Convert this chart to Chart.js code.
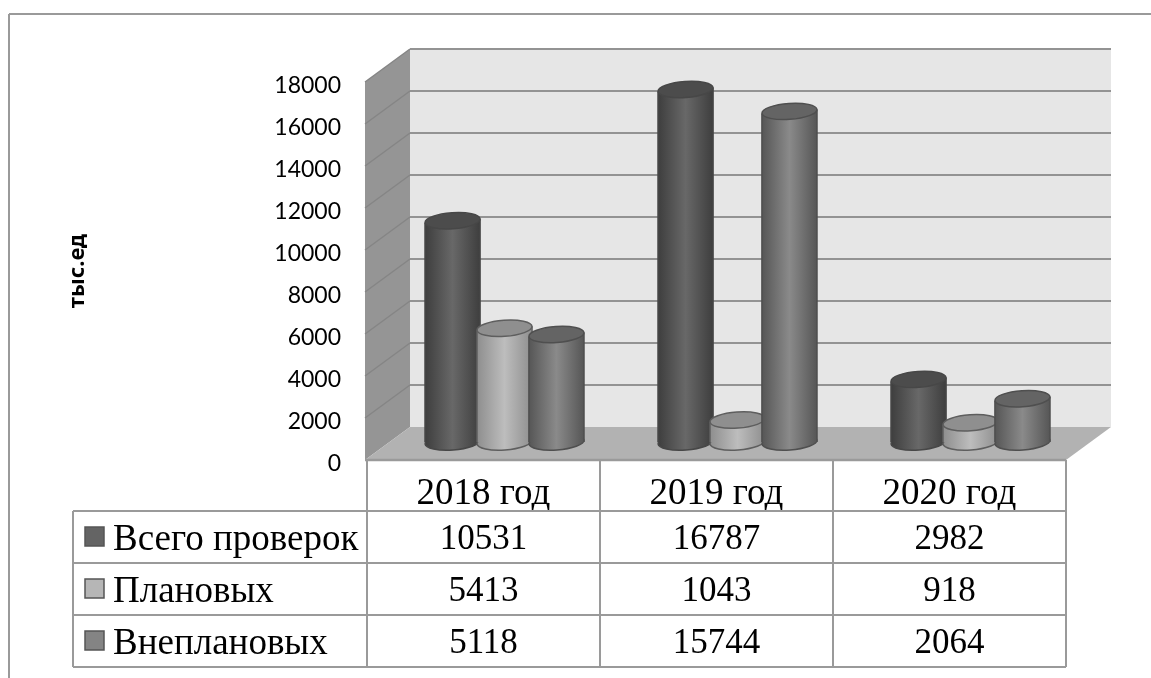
<!DOCTYPE html>
<html><head><meta charset="utf-8">
<style>html,body{margin:0;padding:0;background:#fff}#w{position:relative;width:1151px;height:678px}</style>
<script src="https://cdn.jsdelivr.net/npm/chart.js@4/dist/chart.umd.min.js"></script>
</head><body><div id="w"><canvas id="c" width="1151" height="678"></canvas></div>
<script>
const categories = ['2018 год','2019 год','2020 год'];
const seriesNames = ['Всего проверок','Плановых','Внеплановых'];
const totalChecks = [10531,16787,2982];
const plannedChecks = [5413,1043,918];
const unplannedChecks = [5118,15744,2064];
const axisTitle = 'тыс.ед';
const yTicks = [0,2000,4000,6000,8000,10000,12000,14000,16000,18000];

const seriesValues = [totalChecks, plannedChecks, unplannedChecks];
const edge = ['#3e3e3e','#8e8e8e','#565656'];
const mid = ['#686868','#bdbdbd','#8a8a8a'];
const caps = ['#4c4c4c','#8f8f8f','#646464'];
const lines = ['#474747','#5e5e5e','#4f4f4f'];
const keys = ['#646464','#b6b6b6','#848484'];
const GRID = '#939393', TBL = '#9a9a9a';
const DX = 43, DXR = 45, DY = 33, BX = 21, BY = 18;

function poly(ctx, pts, fill){ctx.beginPath();pts.forEach((p,i)=>i?ctx.lineTo(p[0],p[1]):ctx.moveTo(p[0],p[1]));ctx.closePath();ctx.fillStyle=fill;ctx.fill();}
function seg(ctx,x1,y1,x2,y2,c,w){ctx.beginPath();ctx.moveTo(x1,y1);ctx.lineTo(x2,y2);ctx.strokeStyle=c;ctx.lineWidth=w;ctx.stroke();}

const scene = {
  id:'scene',
  beforeDatasetsDraw(chart){
    const {ctx,chartArea:a,scales:{y}}=chart;
    const l=a.left,r=a.right,b=a.bottom,t=a.top;
    ctx.save();
    seg(ctx,9,14,1151,14,TBL,2); seg(ctx,9,14,9,678,TBL,2);
    poly(ctx,[[l+DX,t-DY],[r+DXR,t-DY],[r+DXR,b-DY],[l+DX,b-DY]],'#e6e6e6');
    poly(ctx,[[l-2,t],[l+DX,t-DY],[l+DX,b-DY],[l-2,b]],'#959595');
    poly(ctx,[[l-2,b],[l+DX,b-DY],[r+DXR,b-DY],[r,b]],'#b2b2b2');
    yTicks.forEach(v=>{const p=y.getPixelForValue(v);
      if(v>0) seg(ctx,l-2,p,l+DX,p-DY,'#858585',1.5);
      if(v>0) seg(ctx,l+DX,p-DY,r+DXR,p-DY,GRID,2);
    });
    const rows=[511,563,615,667], cols=[a.left,(2*a.left+a.right)/3,(a.left+2*a.right)/3,a.right];
    seg(ctx,l-2,b,r,b,TBL,2.5);
    rows.forEach(ry=>seg(ctx,73,ry,r,ry,TBL,2));
    seg(ctx,73,511,73,667,TBL,2);
    cols.forEach(x=>seg(ctx,x,b,x,667,TBL,2));
    ctx.textBaseline='middle';
    seriesNames.forEach((n,i)=>{
      const cy=(rows[i]+rows[i+1])/2;
      ctx.fillStyle=keys[i];ctx.fillRect(85,cy-10,19,19);
      ctx.strokeStyle='#555';ctx.lineWidth=1.5;ctx.strokeRect(85,cy-10,19,19);
      ctx.fillStyle='#000';ctx.textAlign='left';
      ctx.font='37px "Liberation Serif"';ctx.fillText(n,113,cy+3);
      ctx.textAlign='center';ctx.font='35px "Liberation Serif"';
      seriesValues[i].forEach((v,j)=>ctx.fillText(String(v),chart.scales.x.getPixelForValue(j),cy+3));
    });
    ctx.restore();
  },
  beforeDatasetDraw(){ return false; },
  afterDatasetsDraw(chart){
    const {ctx}=chart;
    ctx.save();ctx.translate(BX,-BY);
    [0,1,2].forEach(i=>{
      const meta=chart.getDatasetMeta(i);
      meta.data.forEach(el=>{
        const hw=el.width/2;
        const g=ctx.createLinearGradient(el.x-hw,0,el.x+hw,0);
        g.addColorStop(0,edge[i]);g.addColorStop(.5,mid[i]);g.addColorStop(1,edge[i]);
        el.options=Object.assign({},el.options,{backgroundColor:g});
        ctx.beginPath();ctx.ellipse(el.x,el.base,hw,8,-0.07,0,Math.PI*2);
        ctx.fillStyle=g;ctx.fill();ctx.strokeStyle=lines[i];ctx.lineWidth=1.5;ctx.stroke();
      });
      meta.controller.draw();
      meta.data.forEach(el=>{
        const hw=el.width/2;
        seg(ctx,el.x-hw,el.y+2,el.x-hw,el.base,lines[i],1.5);
        seg(ctx,el.x+hw,el.y-2,el.x+hw,el.base,lines[i],1.5);
        ctx.beginPath();ctx.ellipse(el.x,el.y,hw,8,-0.07,0,Math.PI*2);
        ctx.fillStyle=caps[i];ctx.fill();ctx.strokeStyle=lines[i];ctx.lineWidth=1.5;ctx.stroke();
      });
    });
    ctx.restore();
  }
};

new Chart(document.getElementById('c'),{
  type:'bar',
  plugins:[scene],
  data:{labels:categories,datasets:seriesNames.map((n,i)=>({
    label:n,data:seriesValues[i],clip:false,
    backgroundColor:keys[i],borderWidth:0,
    categoryPercentage:0.669,barPercentage:1.06
  }))},
  options:{
    responsive:false,animation:false,
    layout:{padding:{top:82,right:85,left:0,bottom:0}},
    plugins:{legend:{display:false},tooltip:{enabled:false},title:{display:false}},
    scales:{
      x:{
        afterFit(s){s.height=218;},
        grid:{display:false,drawTicks:false},border:{display:false},
        ticks:{padding:12,color:'#000',font:{family:'Liberation Serif',size:37},maxRotation:0,autoSkip:false}
      },
      y:{
        min:0,max:18000,
        afterFit(s){s.width=367;},
        grid:{display:false,drawTicks:false},border:{display:false},
        ticks:{stepSize:2000,padding:26,labelOffset:4,color:'#000',font:{family:'Lato',size:23},callback:v=>String(v)},
        title:{display:true,text:axisTitle,color:'#000',font:{family:'Noto Sans',size:22,weight:'bold'},padding:{top:65,bottom:0}}
      }
    }
  }
});
</script></body></html>
